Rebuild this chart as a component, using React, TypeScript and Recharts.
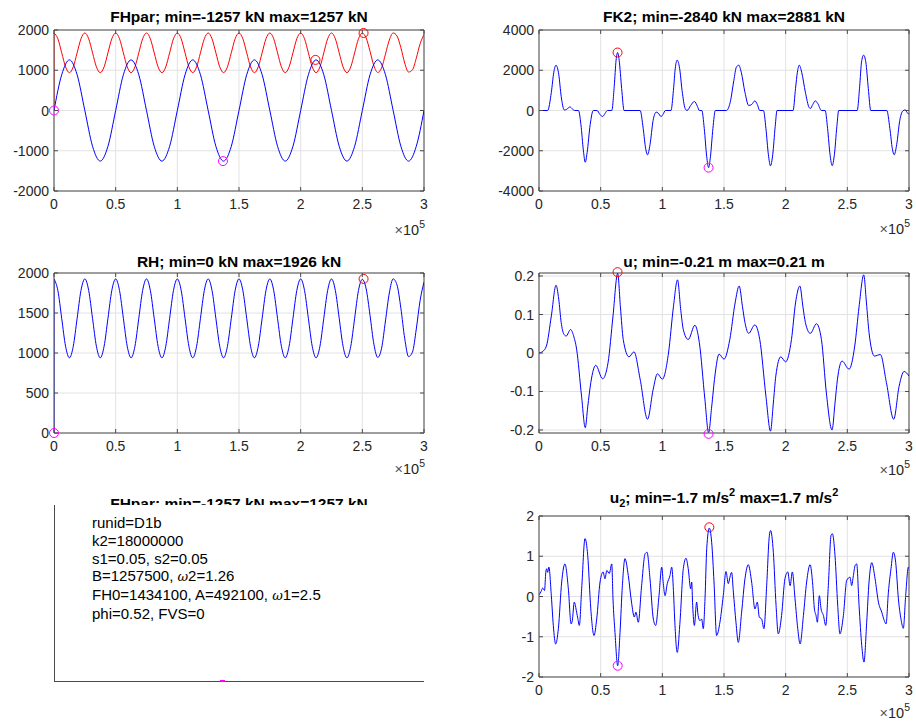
import React from "react";
import {
  LineChart,
  Line,
  XAxis,
  YAxis,
  CartesianGrid,
  ReferenceLine,
  ReferenceDot,
} from "recharts";

const FONT = '"Liberation Sans", Arial, Helvetica, sans-serif';
const BOX = "#4a4a4a";
const GRID = "#e2e2e2";
const TXT = "#262626";
const BLUE = "#0000ff";
const RED = "#ff0000";
const MAGENTA = "#ff00ff";

// x axis is time in units of 1e5
const X_TICKS = [0, 0.5, 1, 1.5, 2, 2.5, 3];

// FHpar (kN), sampled every 0.0625
const FHPAR_STEP = 0.0625;
const fhparValues = [
  0, 889, 1257, 889, 0, -889, -1257, -889,
  0, 889, 1257, 889, 0, -889, -1257, -889,
  0, 889, 1257, 889, 0, -889, -1257, -889,
  0, 889, 1257, 889, 0, -889, -1257, -889,
  0, 889, 1257, 889, 0, -889, -1257, -889,
  0, 889, 1257, 889, 0, -889, -1257, -889,
  0,
];

// RH (kN), sampled every 0.03125, starts from 0 then jumps
const RH_STEP = 0.03125;
const RH_START = 0;
const rhValues = [
  1926, 1782, 1433, 1084, 940, 1084, 1433, 1782,
  1926, 1782, 1433, 1084, 940, 1084, 1433, 1782,
  1926, 1782, 1433, 1084, 940, 1084, 1433, 1782,
  1926, 1782, 1433, 1084, 940, 1084, 1433, 1782,
  1926, 1782, 1433, 1084, 940, 1084, 1433, 1782,
  1926, 1782, 1433, 1084, 940, 1084, 1433, 1782,
  1926, 1782, 1433, 1084, 940, 1084, 1433, 1782,
  1926, 1782, 1433, 1084, 940, 1084, 1433, 1782,
  1926, 1782, 1433, 1084, 940, 1084, 1433, 1782,
  1926, 1782, 1433, 1084, 940, 1084, 1433, 1782,
  1920, 1800, 1470, 1110, 945, 1060, 1400, 1750,
  1926, 1850, 1560, 1180, 955, 1010, 1300, 1660,
  1885,
];

// FK2 (kN): [x, value]
const fk2Points: [number, number][] = [
  [0, 0], [0.07, 0], [0.1, 900], [0.12, 1900], [0.138, 2250], [0.16, 1800], [0.18, 700], [0.205, 30],
  [0.225, 60], [0.25, 180], [0.27, 80], [0.29, 0], [0.32, 0], [0.34, -700], [0.36, -2000], [0.375, -2570],
  [0.39, -2100], [0.415, -700], [0.44, 0], [0.47, 0], [0.495, -200], [0.515, -300], [0.535, -150], [0.555, 0],
  [0.59, 0], [0.61, 1200], [0.625, 2500], [0.637, 2881], [0.65, 2500], [0.67, 1100], [0.69, 0], [0.82, 0],
  [0.845, -900], [0.865, -1900], [0.88, -2200], [0.9, -1700], [0.925, -500], [0.95, -80], [0.965, -120],
  [0.99, -300], [1.005, -200], [1.025, 0], [1.07, 0], [1.09, 1000], [1.105, 2100], [1.12, 2500],
  [1.14, 2100], [1.16, 1000], [1.185, 100], [1.2, 0], [1.23, 250], [1.26, 450], [1.285, 200], [1.3, 0],
  [1.32, 0], [1.34, -900], [1.36, -2300], [1.375, -2840], [1.39, -2300], [1.41, -900], [1.43, 0],
  [1.52, 0], [1.55, 400], [1.58, 1500], [1.6, 2150], [1.62, 2250], [1.64, 1900], [1.67, 900],
  [1.7, 250], [1.725, 300], [1.75, 480], [1.77, 300], [1.79, 0], [1.82, 0], [1.84, -900], [1.86, -2200],
  [1.877, -2750], [1.895, -2200], [1.915, -800], [1.93, 0], [2.06, 0], [2.08, 1100], [2.095, 1900],
  [2.11, 2250], [2.13, 1900], [2.16, 900], [2.19, 150], [2.2, 100], [2.22, 300], [2.24, 480], [2.26, 350],
  [2.29, 0], [2.32, 0], [2.34, -900], [2.36, -2200], [2.377, -2740], [2.395, -2200], [2.415, -800],
  [2.43, 0], [2.58, 0], [2.6, 1200], [2.615, 2400], [2.632, 2750], [2.65, 2400], [2.67, 1100], [2.69, 0],
  [2.82, 0], [2.845, -900], [2.865, -1900], [2.88, -2200], [2.9, -1700], [2.925, -500], [2.95, -20],
  [2.97, 30], [2.985, -100], [3, -200],
];

// u (m): [x, value]
const uPoints: [number, number][] = [
  [0, 0], [0.03, 0.004], [0.06, 0.018], [0.1, 0.096], [0.138, 0.176], [0.16, 0.14], [0.18, 0.079],
  [0.2, 0.05], [0.22, 0.044], [0.256, 0.061], [0.28, 0.045], [0.305, 0.01], [0.345, -0.112],
  [0.375, -0.194], [0.395, -0.14], [0.42, -0.077], [0.46, -0.032], [0.516, -0.067], [0.56, -0.025],
  [0.6, 0.096], [0.638, 0.207], [0.66, 0.12], [0.683, 0.035], [0.73, -0.01], [0.77, 0.003],
  [0.82, -0.068], [0.88, -0.172], [0.926, -0.094], [0.96, -0.054], [1.0, -0.068], [1.05, 0],
  [1.09, 0.12], [1.123, 0.19], [1.15, 0.11], [1.17, 0.061], [1.21, 0.035], [1.264, 0.072], [1.3, 0.027],
  [1.345, -0.12], [1.375, -0.207], [1.4, -0.14], [1.426, -0.06], [1.46, -0.003], [1.5, -0.016],
  [1.547, 0.035], [1.59, 0.13], [1.623, 0.174], [1.65, 0.12], [1.67, 0.079], [1.7, 0.051], [1.75, 0.073],
  [1.79, 0.035], [1.84, -0.112], [1.877, -0.203], [1.9, -0.13], [1.92, -0.06], [1.96, -0.01], [2.0, -0.023],
  [2.047, 0.035], [2.08, 0.13], [2.115, 0.174], [2.14, 0.12], [2.16, 0.079], [2.2, 0.051], [2.25, 0.076],
  [2.29, 0.035], [2.33, -0.104], [2.376, -0.2], [2.4, -0.13], [2.42, -0.068], [2.457, -0.021],
  [2.514, -0.042], [2.56, 0.018], [2.595, 0.12], [2.633, 0.203], [2.655, 0.13], [2.676, 0.053],
  [2.72, -0.008], [2.768, -0.004], [2.817, -0.077], [2.876, -0.172], [2.92, -0.086], [2.96, -0.048],
  [3, -0.06],
];

// u2 (m/s^2): [x, value]
const u2Points: [number, number][] = [
  [0, 0.04], [0.016, 0.12], [0.03, 0.21], [0.045, 0.15], [0.055, 0.6], [0.062, 0.69], [0.07, 0.6],
  [0.08, 0.73], [0.1, 0.02], [0.116, -0.72], [0.135, -1.18], [0.157, -0.8], [0.184, 0.36], [0.21, 0.81],
  [0.238, 0.19], [0.26, -0.68], [0.27, -0.6], [0.286, -0.14], [0.305, -0.39], [0.315, -0.55],
  [0.327, -0.72], [0.346, 0.19], [0.373, 1.44], [0.395, 1.02], [0.42, -0.31], [0.446, -0.97],
  [0.468, -0.56], [0.495, 0.36], [0.52, 0.61], [0.535, 0.44], [0.55, 0.65], [0.57, 0.57], [0.59, 0.81],
  [0.6, -0.06], [0.616, -0.89], [0.638, -1.72], [0.657, -0.89], [0.676, 0.27], [0.697, 0.94],
  [0.724, 0.52], [0.75, -0.14], [0.773, -0.51], [0.786, -0.39], [0.805, -0.64], [0.832, 0.27],
  [0.86, 1.06], [0.876, 1.1], [0.9, 0.44], [0.927, -0.56], [0.946, -0.72], [0.973, 0.02], [0.995, 0.73],
  [1.008, 0.32], [1.022, 0.02], [1.04, 0.32], [1.062, 0.52], [1.076, 0.73], [1.09, 0.15], [1.1, -0.56],
  [1.121, -1.39], [1.143, -0.64], [1.17, 0.69], [1.192, 0.95], [1.21, 0.69], [1.23, 0.19], [1.238, 0.36],
  [1.246, -0.22], [1.26, -0.72], [1.278, -0.14], [1.29, -0.47], [1.305, -0.6], [1.319, -0.56],
  [1.332, -0.8], [1.346, -0.06], [1.36, 1.19], [1.381, 1.7], [1.4, 1.35], [1.419, 0.36], [1.44, -0.97],
  [1.467, -0.64], [1.494, 0.02], [1.516, 0.62], [1.535, 0.32], [1.548, 0.48], [1.562, 0.6], [1.576, 0.11],
  [1.597, -0.64], [1.616, -1.14], [1.643, -0.39], [1.67, 0.44], [1.697, 0.79], [1.724, 0.36],
  [1.751, -0.31], [1.77, -0.14], [1.786, -0.51], [1.805, -0.56], [1.824, -0.8], [1.846, 0.27],
  [1.868, 1.52], [1.878, 1.64], [1.9, 1.1], [1.922, -0.22], [1.94, -0.93], [1.967, -0.47], [1.994, 0.44],
  [2.017, 0.61], [2.036, 0.27], [2.054, 0.61], [2.076, -0.06], [2.098, -0.8], [2.117, -1.18],
  [2.144, -0.47], [2.17, 0.36], [2.198, 0.79], [2.22, 0.27], [2.233, -0.31], [2.246, -0.47],
  [2.257, -0.64], [2.273, 0.02], [2.287, -0.31], [2.306, -0.47], [2.325, -0.72], [2.346, 0.27],
  [2.368, 1.52], [2.379, 1.56], [2.4, 1.02], [2.422, -0.22], [2.44, -0.93], [2.468, -0.47], [2.495, 0.4],
  [2.522, 0.48], [2.535, 0.27], [2.549, 0.52], [2.563, 0.77], [2.576, 0.81], [2.595, -0.22],
  [2.617, -1.22], [2.635, -1.63], [2.657, -0.64], [2.676, 0.36], [2.698, 0.84], [2.725, 0.44],
  [2.752, -0.14], [2.779, -0.39], [2.8, -0.6], [2.814, -0.68], [2.833, 0.11], [2.854, 0.69],
  [2.873, 1.1], [2.892, 0.85], [2.914, -0.06], [2.935, -0.56], [2.954, -0.79], [2.973, 0.02],
  [2.995, 0.73], [3, 0.69],
];

// min / max markers [x, value]
const fhparMax: [number, number] = [2.12, 1257];
const fhparMin: [number, number] = [1.37, -1257];
const rhMax: [number, number] = [2.51, 1926];
const rhMin: [number, number] = [0, 0];
const fk2Max: [number, number] = [0.637, 2881];
const fk2Min: [number, number] = [1.375, -2840];
const uMax: [number, number] = [0.637, 0.21];
const uMin: [number, number] = [1.375, -0.21];
const u2Max: [number, number] = [1.381, 1.72];
const u2Min: [number, number] = [0.638, -1.72];

const paramLines = [
  "runid=D1b",
  "k2=18000000",
  "s1=0.05, s2=0.05",
  "B=1257500, |ω|2=1.26",
  "FH0=1434100, A=492100, |ω|1=2.5",
  "phi=0.52, FVS=0",
];

type Pt = { x: number; y: number };
const toPts = (arr: [number, number][]): Pt[] => arr.map(([x, y]) => ({ x, y }));

const fhparData: Pt[] = fhparValues.map((y, i) => ({ x: i * FHPAR_STEP, y }));
const rhData: Pt[] = rhValues.map((y, i) => ({ x: i * RH_STEP, y }));
const rhJump: Pt[] = [
  { x: 0, y: RH_START },
  { x: 0, y: rhValues[0] },
];

type Series = { data: Pt[]; color: string; curve: "monotone" | "linear"; width?: number };
type Marker = { at: [number, number]; color: string };

const ML = 60;
const MR = 14;
const MT = 8;
const MB = 30;

function Panel(props: {
  left: number;
  top: number;
  plotW: number;
  plotH: number;
  yDomain: [number, number];
  yTicks: number[];
  series: Series[];
  markers: Marker[];
}) {
  const { left, top, plotW, plotH, yDomain, yTicks, series, markers } = props;
  const W = ML + plotW + MR;
  const H = MT + plotH + MB;
  const pl = ML;
  const pr = ML + plotW;
  const pt = MT;
  const pb = MT + plotH;

  const xTick = (p: any) => (
    <g>
      <line x1={p.x} x2={p.x} y1={pb} y2={pb - 4} stroke={BOX} />
      <line x1={p.x} x2={p.x} y1={pt} y2={pt + 4} stroke={BOX} />
      <text
        x={p.x}
        y={pb + 13}
        textAnchor="middle"
        dominantBaseline="central"
        fontSize={14}
        fontFamily={FONT}
        fill={TXT}
      >
        {String(p.payload.value)}
      </text>
    </g>
  );
  const yTick = (p: any) => (
    <g>
      <line x1={pl} x2={pl + 4} y1={p.y} y2={p.y} stroke={BOX} />
      <line x1={pr - 4} x2={pr} y1={p.y} y2={p.y} stroke={BOX} />
      <text
        x={pl - 5}
        y={p.y}
        textAnchor="end"
        dominantBaseline="central"
        fontSize={14}
        fontFamily={FONT}
        fill={TXT}
      >
        {String(p.payload.value)}
      </text>
    </g>
  );

  return (
    <div style={{ position: "absolute", left: left - ML, top: top - MT }}>
      <LineChart width={W} height={H} margin={{ top: MT, right: MR, bottom: 0, left: 0 }}>
        <CartesianGrid stroke={GRID} />
        <XAxis
          type="number"
          dataKey="x"
          domain={[0, 3]}
          ticks={X_TICKS}
          interval={0}
          allowDataOverflow
          height={MB}
          axisLine={{ stroke: BOX }}
          tickLine={false}
          tick={xTick}
        />
        <YAxis
          type="number"
          dataKey="y"
          domain={yDomain}
          ticks={yTicks}
          interval={0}
          allowDataOverflow
          width={ML}
          axisLine={{ stroke: BOX }}
          tickLine={false}
          tick={yTick}
        />
        <ReferenceLine y={yDomain[1]} stroke={BOX} ifOverflow="visible" />
        <ReferenceLine x={3} stroke={BOX} ifOverflow="visible" />
        {series.map((s, i) => (
          <Line
            key={i}
            data={s.data}
            dataKey="y"
            type={s.curve}
            stroke={s.color}
            strokeWidth={s.width ?? 1}
            dot={false}
            activeDot={false}
            isAnimationActive={false}
          />
        ))}
        {markers.map((m, i) => (
          <ReferenceDot
            key={i}
            x={m.at[0]}
            y={m.at[1]}
            r={4.5}
            fill="none"
            stroke={m.color}
            strokeWidth={1}
            ifOverflow="visible"
          />
        ))}
      </LineChart>
    </div>
  );
}

function Title({ cx, cy, children }: { cx: number; cy: number; children: React.ReactNode }) {
  return (
    <div
      style={{
        position: "absolute",
        left: cx - 200,
        width: 400,
        top: cy - 10,
        height: 20,
        lineHeight: "20px",
        textAlign: "center",
        fontFamily: FONT,
        fontWeight: "bold",
        fontSize: 15.5,
        color: "#000",
        whiteSpace: "nowrap",
      }}
    >
      {children}
    </div>
  );
}

function Exp({ right, cy }: { right: number; cy: number }) {
  return (
    <div
      style={{
        position: "absolute",
        left: right - 60,
        width: 60,
        top: cy - 9,
        height: 18,
        lineHeight: "18px",
        textAlign: "right",
        fontFamily: FONT,
        fontSize: 14.5,
        color: TXT,
      }}
    >
      <span style={{ color: "#555" }}>×</span>10
      <sup style={{ fontSize: 10.5, verticalAlign: "7px", lineHeight: 0 }}>5</sup>
    </div>
  );
}

function ParamLine({ text }: { text: string }) {
  const parts = text.split("|");
  return (
    <div>
      {parts.map((p, i) =>
        i % 2 === 1 ? (
          <i key={i} style={{ fontFamily: '"DejaVu Serif", serif', fontSize: 13 }}>
            {p}
          </i>
        ) : (
          <span key={i}>{p}</span>
        )
      )}
    </div>
  );
}

export default function App() {
  return (
    <div
      style={{
        position: "absolute",
        left: 0,
        top: 0,
        width: 916,
        height: 722,
        background: "#fff",
        overflow: "hidden",
        fontFamily: FONT,
      }}
    >
      {/* top left: FHpar + RH */}
      <Title cx={239} cy={17}>FHpar; min=-1257 kN max=1257 kN</Title>
      <Panel
        left={54}
        top={30}
        plotW={370}
        plotH={161}
        yDomain={[-2000, 2000]}
        yTicks={[-2000, -1000, 0, 1000, 2000]}
        series={[
          { data: rhJump, color: RED, curve: "linear" },
          { data: rhData, color: RED, curve: "monotone" },
          { data: fhparData, color: BLUE, curve: "monotone" },
        ]}
        markers={[
          { at: fhparMax, color: RED },
          { at: fhparMin, color: MAGENTA },
          { at: rhMax, color: RED },
          { at: rhMin, color: MAGENTA },
        ]}
      />
      <Exp right={425} cy={230} />

      {/* top right: FK2 */}
      <Title cx={724} cy={17}>FK2; min=-2840 kN max=2881 kN</Title>
      <Panel
        left={539}
        top={30}
        plotW={370}
        plotH={161}
        yDomain={[-4000, 4000]}
        yTicks={[-4000, -2000, 0, 2000, 4000]}
        series={[{ data: toPts(fk2Points), color: BLUE, curve: "monotone" }]}
        markers={[
          { at: fk2Max, color: RED },
          { at: fk2Min, color: MAGENTA },
        ]}
      />
      <Exp right={910} cy={229} />

      {/* middle left: RH */}
      <Title cx={239} cy={262}>RH; min=0 kN max=1926 kN</Title>
      <Panel
        left={54}
        top={273}
        plotW={370}
        plotH={160}
        yDomain={[0, 2000]}
        yTicks={[0, 500, 1000, 1500, 2000]}
        series={[
          { data: rhJump, color: BLUE, curve: "linear" },
          { data: rhData, color: BLUE, curve: "monotone" },
        ]}
        markers={[
          { at: rhMax, color: RED },
          { at: rhMin, color: MAGENTA },
        ]}
      />
      <Exp right={425} cy={469} />

      {/* middle right: u */}
      <Title cx={724} cy={262}>u; min=-0.21 m max=0.21 m</Title>
      <Panel
        left={539}
        top={273}
        plotW={370}
        plotH={160}
        yDomain={[-0.2078, 0.2078]}
        yTicks={[-0.2, -0.1, 0, 0.1, 0.2]}
        series={[{ data: toPts(uPoints), color: BLUE, curve: "monotone" }]}
        markers={[
          { at: uMax, color: RED },
          { at: uMin, color: MAGENTA },
        ]}
      />
      <Exp right={910} cy={470} />

      {/* bottom left: parameter text box over a hidden axes */}
      <Title cx={239} cy={504}>FHpar; min=-1257 kN max=1257 kN</Title>
      <div
        style={{
          position: "absolute",
          left: 54,
          top: 505,
          width: 370,
          height: 177,
          boxSizing: "border-box",
          borderLeft: `1px solid ${BOX}`,
          borderBottom: `1px solid ${BOX}`,
          background: "#fff",
        }}
      >
        <div
          style={{
            position: "absolute",
            left: 37,
            top: 9,
            fontSize: 15,
            lineHeight: "17.8px",
            color: "#000",
            whiteSpace: "nowrap",
          }}
        >
          {paramLines.map((t, i) => (
            <ParamLine key={i} text={t} />
          ))}
        </div>
      </div>
      <div
        style={{ position: "absolute", left: 220, top: 680, width: 5, height: 2, background: MAGENTA }}
      />

      {/* bottom right: u2 */}
      <Title cx={724} cy={498}>
        u<sub style={{ fontSize: 11, verticalAlign: "-4px", lineHeight: 0 }}>2</sub>; min=-1.7 m/s
        <sup style={{ fontSize: 11, verticalAlign: "7px", lineHeight: 0 }}>2</sup> max=1.7 m/s
        <sup style={{ fontSize: 11, verticalAlign: "7px", lineHeight: 0 }}>2</sup>
      </Title>
      <Panel
        left={539}
        top={516}
        plotW={370}
        plotH={161}
        yDomain={[-2, 2]}
        yTicks={[-2, -1, 0, 1, 2]}
        series={[{ data: toPts(u2Points), color: BLUE, curve: "monotone" }]}
        markers={[
          { at: u2Max, color: RED },
          { at: u2Min, color: MAGENTA },
        ]}
      />
      <Exp right={910} cy={713} />
    </div>
  );
}
